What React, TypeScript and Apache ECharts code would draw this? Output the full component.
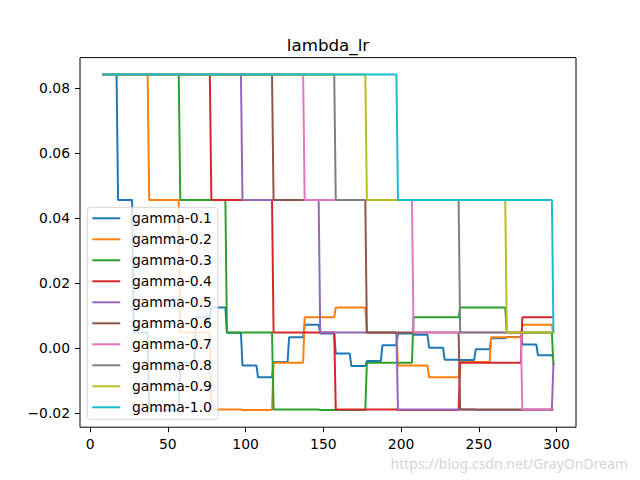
import React, { useEffect, useRef } from "react";
import * as echarts from "echarts";

// ---- data ----
const seriesNames = [
  "gamma-0.1", "gamma-0.2", "gamma-0.3", "gamma-0.4", "gamma-0.5",
  "gamma-0.6", "gamma-0.7", "gamma-0.8", "gamma-0.9", "gamma-1.0",
];
// length (in epochs) of one lr step for each series
const stepLengths = [10, 20, 30, 40, 50, 60, 70, 80, 90, 100];
// step k of a series covers epochs [len*k + stepOffset, len*(k+1) + stepOffset - 1]
const stepOffset = -2;
const firstEpoch = 8;
const lastEpoch = 298;
// lr value of step k (k = 0, 1, 2, ...)
const stepValues = [
  0.0843, 0.0843, 0.0456, 0.0048, -0.0189, -0.0191, -0.0045, 0.0095, 0.0125, 0.0047,
  -0.0054, -0.009, -0.0043, 0.0033, 0.0072, 0.0045, -0.0017, -0.0055, -0.004, 0.0009,
  0.0045, 0.0041, 0.0001, -0.0036, -0.0037, -0.0004, 0.003, 0.0034, 0.0011, -0.0022,
  -0.0031,
];
const xTicks = [0, 50, 100, 150, 200, 250, 300];
const yTicks = [-0.02, 0, 0.02, 0.04, 0.06, 0.08];
const titleText = "lambda_lr";
const watermarkText = "https://blog.csdn.net/GrayOnDream";

const colors = [
  "#1f77b4", "#ff7f0e", "#2ca02c", "#d62728", "#9467bd",
  "#8c564b", "#e377c2", "#7f7f7f", "#bcbd22", "#17becf",
];

function buildSeriesData(len: number): number[][] {
  const pts: number[][] = [];
  for (let k = 0; k < stepValues.length; k++) {
    const s = Math.max(firstEpoch, len * k + stepOffset);
    const e = Math.min(lastEpoch, len * (k + 1) + stepOffset - 1);
    if (s > lastEpoch) break;
    if (e < s) continue;
    pts.push([s, stepValues[k]]);
    if (e > s) pts.push([e, stepValues[k]]);
  }
  return pts;
}

const FONT = "DejaVu Sans";

export default function App() {
  const ref = useRef<HTMLDivElement>(null);
  useEffect(() => {
    if (!ref.current) return;
    const chart = echarts.init(ref.current, null, { renderer: "svg" });
    const fmtY = (v: number) => (v < 0 ? "\u2212" : "") + Math.abs(v).toFixed(2);
    const option: any = {
      animation: false,
      backgroundColor: "#ffffff",
      textStyle: { fontFamily: FONT },
      grid: {
        left: 80,
        top: 57.6,
        width: 496,
        height: 369.6,
        show: true,
        borderColor: "#000000",
        borderWidth: 1,
        backgroundColor: "transparent",
        containLabel: false,
        outerBoundsMode: "none",
      },
      xAxis: {
        type: "value",
        position: "bottom",
        min: -6.5,
        max: 312.5,
        axisLine: { show: false, onZero: false },
        splitLine: { show: false },
        axisTick: {
          show: true,
          inside: false,
          length: 5,
          lineStyle: { color: "#000", width: 1 },
          customValues: xTicks,
        },
        axisLabel: {
          customValues: xTicks,
          margin: 10,
          color: "#000",
          fontSize: 13.9,
          fontFamily: FONT,
          formatter: (v: number) => String(v),
        },
      },
      yAxis: {
        type: "value",
        position: "left",
        min: -0.02438,
        max: 0.08948,
        axisLine: { show: false, onZero: false },
        splitLine: { show: false },
        axisTick: {
          show: true,
          inside: false,
          length: 5,
          lineStyle: { color: "#000", width: 1 },
          customValues: yTicks,
        },
        axisLabel: {
          customValues: yTicks,
          margin: 10,
          color: "#000",
          fontSize: 13.9,
          fontFamily: FONT,
          formatter: fmtY,
        },
      },
      legend: {
        orient: "vertical",
        left: 87.3,
        top: 207.3,
        padding: [4, 6, 5, 5],
        itemWidth: 28,
        itemHeight: 2,
        itemGap: 7,
        icon: "rect",
        selectedMode: false,
        backgroundColor: "rgba(255,255,255,0.8)",
        borderColor: "rgba(204,204,204,0.8)",
        borderWidth: 1,
        borderRadius: 3,
        textStyle: {
          fontFamily: FONT,
          fontSize: 13.9,
          color: "#000",
          lineHeight: 14,
          padding: [0, 0, 0, 6.6],
        },
        data: seriesNames,
      },
      graphic: [
        {
          type: "text",
          x: 328,
          y: 44.5,
          style: {
            text: titleText,
            fontSize: 16.7,
            fontFamily: FONT,
            fill: "#000",
            align: "center",
            verticalAlign: "middle",
          },
        },
        {
          type: "text",
          x: 628,
          y: 463,
          style: {
            text: watermarkText,
            fontSize: 14,
            fontFamily: "Noto Sans",
            fill: "#d4d4d4",
            align: "right",
            verticalAlign: "middle",
          },
        },
      ],
      series: seriesNames.map((name, i) => ({
        name,
        type: "line",
        data: buildSeriesData(stepLengths[i]),
        showSymbol: false,
        symbol: "none",
        lineStyle: { width: 2, color: colors[i] },
        itemStyle: { color: colors[i] },
      })),
    };
    chart.setOption(option);
    return () => chart.dispose();
  }, []);
  return (
    <div
      ref={ref}
      style={{ position: "fixed", left: 0, top: 0, width: 640, height: 480 }}
    />
  );
}
